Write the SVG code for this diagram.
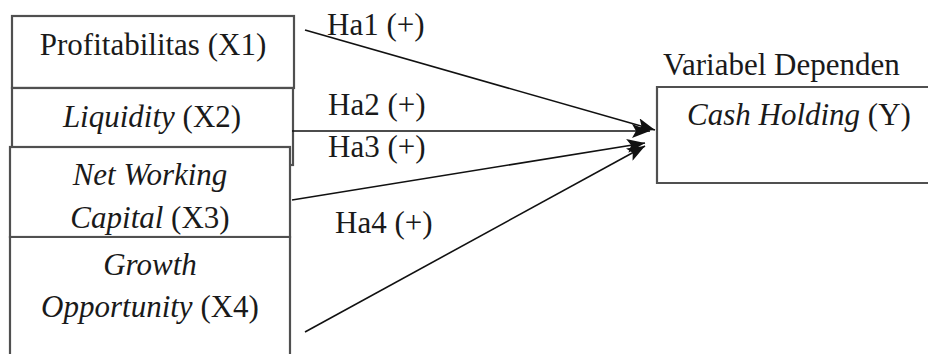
<svg xmlns="http://www.w3.org/2000/svg" width="928" height="354" viewBox="0 0 928 354">
<style>
text{font-family:"Liberation Serif","Times New Roman",serif;font-size:31px;fill:#1a1a1a}
.c{text-anchor:middle}
.box{fill:#fff;stroke:#505050;stroke-width:2.2}
.ln{stroke:#111;stroke-width:1.6;fill:none}
</style>
<defs>
<marker id="ah" markerUnits="userSpaceOnUse" markerWidth="20" markerHeight="14" refX="18" refY="7" orient="auto">
<path d="M0,0 L18,7 L0,14 L4,7 Z" fill="#111"/>
</marker>
</defs>
<rect width="928" height="354" fill="#fff"/>
<g id="x1">
<rect class="box" x="12" y="16" width="282" height="72"/>
<text class="c" x="153" y="55">Profitabilitas (X1)</text>
</g>
<g id="x2">
<rect class="box" x="12" y="88" width="281" height="77"/>
<text class="c" x="152" y="127"><tspan font-style="italic">Liquidity</tspan> (X2)</text>
</g>
<g id="x3">
<rect class="box" x="10" y="147" width="280" height="90"/>
<text class="c" x="150" y="185" font-style="italic">Net Working</text>
<text class="c" x="150" y="228"><tspan font-style="italic">Capital</tspan> (X3)</text>
</g>
<g id="x4">
<path class="box" d="M10,360 L10,237 L290,237 L290,360"/>
<text class="c" x="150" y="275" font-style="italic">Growth</text>
<text class="c" x="150" y="317"><tspan font-style="italic">Opportunity</tspan> (X4)</text>
</g>
<g id="y">
<text x="663" y="75">Variabel Dependen</text>
<path class="box" d="M935,87 L657,87 L657,183 L935,183"/>
<text x="687" y="125"><tspan font-style="italic">Cash Holding</tspan> (Y)</text>
</g>
<g id="connectors">
<line class="ln" x1="305" y1="30" x2="655" y2="130" marker-end="url(#ah)"/>
<line class="ln" x1="292" y1="131" x2="650" y2="131" marker-end="url(#ah)"/>
<line class="ln" x1="292" y1="200" x2="645" y2="143" marker-end="url(#ah)"/>
<line class="ln" x1="305" y1="332" x2="645" y2="146" marker-end="url(#ah)"/>
<text x="327" y="35">Ha1 (+)</text>
<text x="328" y="115">Ha2 (+)</text>
<text x="328" y="157">Ha3 (+)</text>
<text x="335" y="233">Ha4 (+)</text>
</g>
</svg>
